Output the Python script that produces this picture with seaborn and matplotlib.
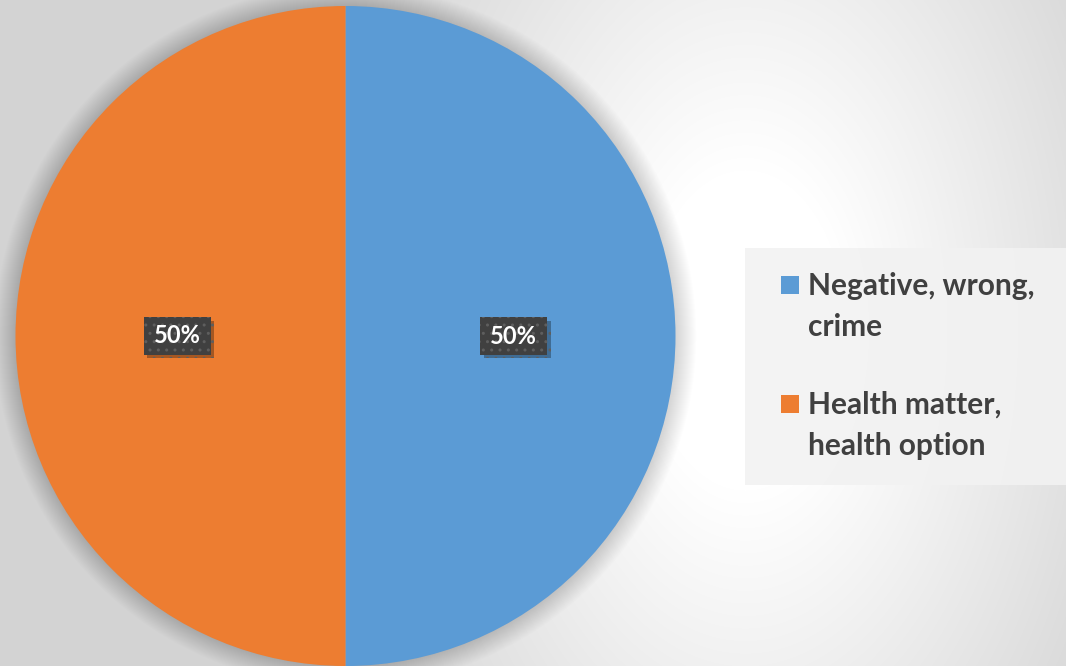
import numpy as np
import matplotlib
matplotlib.use("Agg")
import matplotlib.pyplot as plt
import matplotlib.patheffects as pe
from matplotlib.patches import Rectangle, Circle
from matplotlib.path import Path
from matplotlib.legend_handler import HandlerBase
import seaborn as sns

# Survey answers and their shares
categories = ["Negative, wrong,\ncrime", "Health matter,\nhealth option"]
shares = [50, 50]
colors = ["#5B9BD5", "#ED7D31"]

sns.set_theme(style="white")
plt.rcParams["font.family"] = ["Lato", "DejaVu Sans"]

W, H = 1066, 666
fig = plt.figure(figsize=(W / 100, H / 100), dpi=100)

# Soft radial backdrop, brightest just right of the pie
bg = fig.add_axes([0, 0, 1, 1], zorder=-10)
yy, xx = np.mgrid[0:H, 0:W]
d = np.hypot(xx - 745, (yy - 330) / 1.6)
t = np.clip((d - 100) / 340, 0, 1)
val = 1.0 - 0.17 * t
bg.imshow(np.dstack([val] * 3), extent=[0, W, H, 0], aspect="auto",
          interpolation="bilinear", vmin=0, vmax=1)
bg.set_axis_off()

# Pie axes: center (345, 336), radius ~330 px
r_px = 330
cx, cy = 345.5, 336
ax = fig.add_axes([(cx - r_px - 30) / W, (H - cy - r_px - 30) / H,
                   2 * (r_px + 30) / W, 2 * (r_px + 30) / H])
ax.set_axis_off()

wedges, _, autotexts = ax.pie(
    shares, colors=colors, startangle=90, counterclock=False,
    autopct=lambda p: f"{p:.0f}%", pctdistance=0.51, radius=1.0,
    wedgeprops=dict(linewidth=0, zorder=2),
    textprops=dict(color="white", fontsize=17, fontweight="bold", zorder=5),
)
lim = (r_px + 30) / r_px
ax.set_xlim(-lim, lim)
ax.set_ylim(-lim, lim)

# soft halo under the pie
for k in range(22):
    ax.add_patch(Circle((0, 0), 1.0 + 0.003 * k, color="black",
                        alpha=0.006, lw=0, zorder=0))


def label_box(x0, y0, width, height, mutation_size):
    px, py = 0.42 * mutation_size, 0.3 * mutation_size
    x0, y0 = x0 - px, y0 - py
    x1, y1 = x0 + width + 2 * px, y0 + height + 2 * py
    return Path([(x0, y0), (x1, y0), (x1, y1), (x0, y1), (x0, y0)], closed=True)


for t_ in autotexts:
    t_.set_bbox(dict(boxstyle=label_box, facecolor="#404040",
                     edgecolor="#5e5e5e", linewidth=0, hatch=".."))
    bp = t_.get_bbox_patch()
    bp.set_path_effects([pe.SimplePatchShadow(offset=(2.5, -2.5), alpha=0.3,
                                              shadow_rgbFace="black"),
                         pe.Normal()])


class TopSquareHandler(HandlerBase):
    """Square swatch pinned to the first text line."""
    def create_artists(self, legend, orig_handle, xdescent, ydescent,
                       width, height, fontsize, trans):
        s = 13
        r = Rectangle((-xdescent + width - s, -ydescent + height - s + 7), s, s,
                      facecolor=orig_handle.get_facecolor(), edgecolor="none",
                      transform=trans)
        return [r]


# legend panel
fig.patches.append(Rectangle((745 / W, 1 - 485 / H), (W - 745) / W, (485 - 248) / H,
                             transform=fig.transFigure, facecolor="#f2f2f2",
                             alpha=0.9, edgecolor="none", zorder=-5))

leg = fig.legend(
    wedges, categories, loc="upper left",
    bbox_to_anchor=(781 / W, 1 - 272 / H),
    handler_map={type(wedges[0]): TopSquareHandler()},
    prop=dict(size=21.5, weight="bold"),
    labelcolor="#404040", frameon=False,
    handlelength=0.6, handleheight=2.0, handletextpad=0.3,
    borderpad=0, borderaxespad=0, labelspacing=1.65,
)
for txt in leg.get_texts():
    txt.set_linespacing(1.58)

fig.savefig("out.png", dpi=100)
